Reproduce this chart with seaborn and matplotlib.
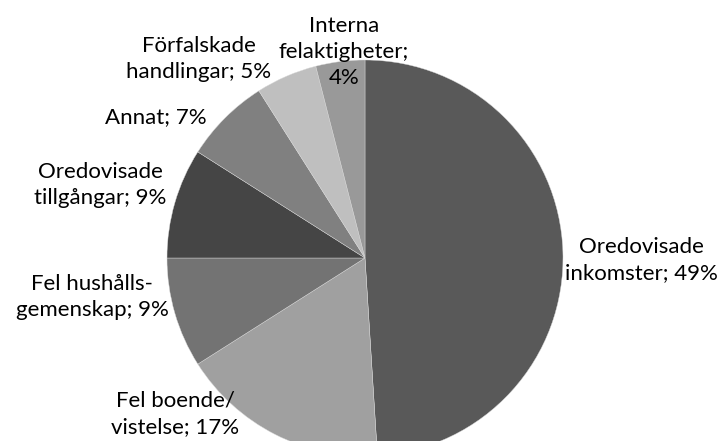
import matplotlib
matplotlib.use("Agg")
import matplotlib.pyplot as plt
import seaborn as sns

# -----------------------------
# DATA
# -----------------------------
categories = [
    "Oredovisade\ninkomster",
    "Fel boende/\nvistelse",
    "Fel hushålls-\ngemenskap",
    "Oredovisade\ntillgångar",
    "Annat",
    "Förfalskade\nhandlingar",
    "Interna\nfelaktigheter",
]
shares = [49, 17, 9, 9, 7, 5, 4]
colors = ["#595959", "#a0a0a0", "#737373", "#454545", "#808080", "#bfbfbf", "#999999"]

# label centres in pixel coords of the 720x441 canvas
label_px = [(641, 260), (175, 414), (92, 297), (100, 185), (156, 117), (199, 59), (344, 52)]

# -----------------------------
# PLOT
# -----------------------------
sns.set_theme(style="white")
plt.rcParams["font.family"] = ["Lato", "DejaVu Sans"]

W, H = 720, 441
cx, cy, R = 365, 258, 198

fig = plt.figure(figsize=(W / 100, H / 100), dpi=100)
ax = fig.add_axes([0, 0, 1, 1])
ax.pie(shares, colors=colors, startangle=90, counterclock=False, radius=1,
       wedgeprops=dict(edgecolor="#d9d9d9", linewidth=0.3))
ax.set_xlim(-cx / R, (W - cx) / R)
ax.set_ylim(-(H - cy) / R, cy / R)
ax.set_aspect("auto")
ax.axis("off")

for cat, val, (px, py) in zip(categories, shares, label_px):
    if cat.startswith("Interna"):
        txt = f"{cat};\n{val}%"   # this one wraps after the semicolon
    else:
        txt = f"{cat}; {val}%"
    ax.text((px - cx) / R, (cy - py) / R, txt, ha="center", va="center",
            fontsize=16, color="black", linespacing=1.4)

fig.savefig("out.png", dpi=100, facecolor="white")
